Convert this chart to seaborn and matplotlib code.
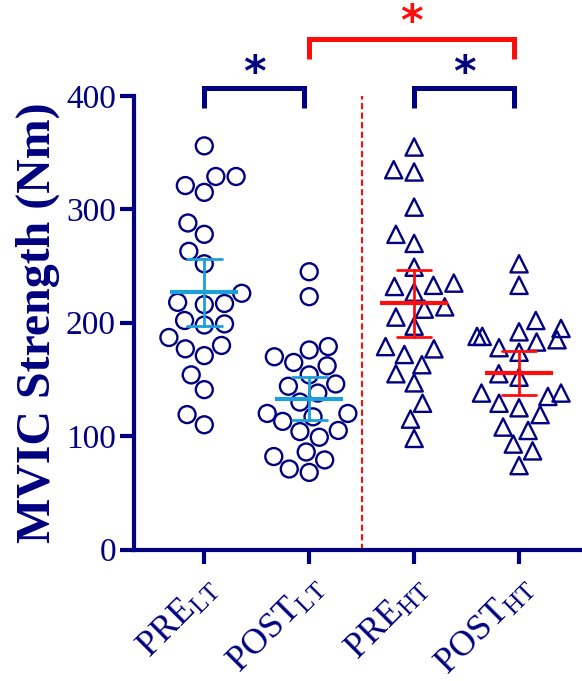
import numpy as np
import pandas as pd
import matplotlib
matplotlib.use("Agg")
import matplotlib.pyplot as plt
import matplotlib.transforms as mtransforms
import seaborn as sns

# ---- data -----------------------------------------------------------------
groups = ["PRE_LT", "POST_LT", "PRE_HT", "POST_HT"]
tick_labels = [r"PRE$_{\mathrm{LT}}$", r"POST$_{\mathrm{LT}}$",
               r"PRE$_{\mathrm{HT}}$", r"POST$_{\mathrm{HT}}$"]

pre_lt = [356, 329, 329, 315, 321, 288, 278, 263, 252, 226, 217, 218,
          216, 202, 198, 199, 187, 177, 180, 171, 154, 141, 119, 110]
post_lt = [245, 223, 165, 176, 179, 170, 162, 154, 144, 146, 138, 130,
           120, 120, 113, 117, 104, 105, 99, 86, 82, 71, 79, 68]
pre_ht = [355, 333, 335, 302, 278, 270, 249, 232, 233, 227, 235, 212,
          214, 197, 205, 177, 172, 179, 163, 155, 147, 129, 115, 98]
post_ht = [252, 233, 202, 195, 188, 183, 188, 192, 185, 178, 174, 155,
           152, 138, 135, 138, 129, 125, 119, 108, 105, 93, 87, 74]

y_ticks = [0, 100, 200, 300, 400]

# significant pairwise comparisons (first group, second group, colour key)
comparisons = [("PRE_LT", "POST_LT", "within"),
               ("PRE_HT", "POST_HT", "within"),
               ("POST_LT", "POST_HT", "between")]

# ---- style ----------------------------------------------------------------
NAVY = "#000080"
LIGHT_BLUE = "#1e9fd9"
RED = "#ff0d0d"

sns.set_style("ticks")
plt.rcParams["font.family"] = ["Liberation Serif", "DejaVu Serif"]
plt.rcParams["mathtext.fontset"] = "custom"
plt.rcParams["mathtext.rm"] = "Liberation Serif"
plt.rcParams["mathtext.it"] = "Liberation Serif:italic"
plt.rcParams["mathtext.bf"] = "Liberation Serif:bold"

T_CRIT = 2.069  # two-sided 95 % t quantile, df = 23


def ci95(values):
    v = np.asarray(values, dtype=float)
    half = T_CRIT * v.std(ddof=1) / np.sqrt(len(v))
    return v.mean() - half, v.mean() + half


series = [pre_lt, post_lt, pre_ht, post_ht]
df = pd.DataFrame({
    "group": np.concatenate([[g] * len(s) for g, s in zip(groups, series)]),
    "value": np.concatenate(series).astype(float),
})
lt = df[df["group"].isin(groups[:2])]
ht = df[df["group"].isin(groups[2:])]

fig = plt.figure(figsize=(5.82, 6.81), dpi=100)
ax = fig.add_axes([134 / 582, 131.5 / 681, 448 / 582, 453.5 / 681])

# individual subjects
sns.swarmplot(data=lt, x="group", y="value", order=groups, marker="o",
              size=12.2, facecolor="none", edgecolor=NAVY, linewidth=1.7,
              ax=ax, zorder=3)
sns.swarmplot(data=ht, x="group", y="value", order=groups, marker="^",
              size=12.4, facecolor="none", edgecolor=NAVY, linewidth=1.7,
              ax=ax, zorder=3)
for coll in ax.collections:
    coll.set_facecolor("none")
    coll.set_edgecolor(NAVY)

# group mean with 95 % confidence interval
for sub, col in [(lt, LIGHT_BLUE), (ht, RED)]:
    sns.pointplot(data=sub, x="group", y="value", order=groups,
                  estimator="mean", errorbar=ci95, color=col, marker="_",
                  markersize=49, markeredgewidth=3.0, linestyle="none",
                  capsize=0.33, err_kws={"linewidth": 2.0, "zorder": 4},
                  zorder=5, ax=ax)

# separator between the two protocols
ax.vlines(1.5, 0, 400, colors=RED, linestyles=(0, (3, 1.6)), linewidth=1.5,
          zorder=1)

ax.set_xlim(-0.67, 3.6)
ax.set_ylim(0, 400)
ax.set_yticks(y_ticks)
ax.set_xticks(range(len(groups)))
ax.set_xticklabels(tick_labels, rotation=45, ha="right", va="center",
                   rotation_mode="anchor")
ax.set_xlabel("")
ax.set_ylabel("MVIC Strength (Nm)", fontsize=34.5, fontweight="bold",
              color=NAVY, labelpad=4)

for side in ["top", "right"]:
    ax.spines[side].set_visible(False)
for side in ["left", "bottom"]:
    ax.spines[side].set_linewidth(3)
    ax.spines[side].set_color(NAVY)
ax.tick_params(axis="both", width=3, length=10, colors=NAVY, labelsize=24,
               pad=3)
ax.tick_params(axis="x", labelsize=26, pad=6)

shift = mtransforms.ScaledTranslation(10 / 100, -11 / 100, fig.dpi_scale_trans)
for lab in ax.get_xticklabels():
    lab.set_transform(lab.get_transform() + shift)

# significance brackets
pos = {g: i for i, g in enumerate(groups)}
levels = {"within": (407, 389, NAVY, 419), "between": (450, 433, RED, 464)}
for g1, g2, kind in comparisons:
    top, foot, col, star_y = levels[kind]
    x1, x2 = pos[g1], pos[g2] - 0.05
    ax.plot([x1, x1, x2, x2], [foot, top, top, foot], color=col,
            linewidth=3.6, solid_joinstyle="miter", solid_capstyle="butt",
            clip_on=False)
    ax.text((x1 + x2) / 2, star_y, "*", ha="center", va="center",
            fontsize=31, fontweight="bold", color=col, family="DejaVu Sans",
            clip_on=False)

fig.savefig("out.png", dpi=100)
